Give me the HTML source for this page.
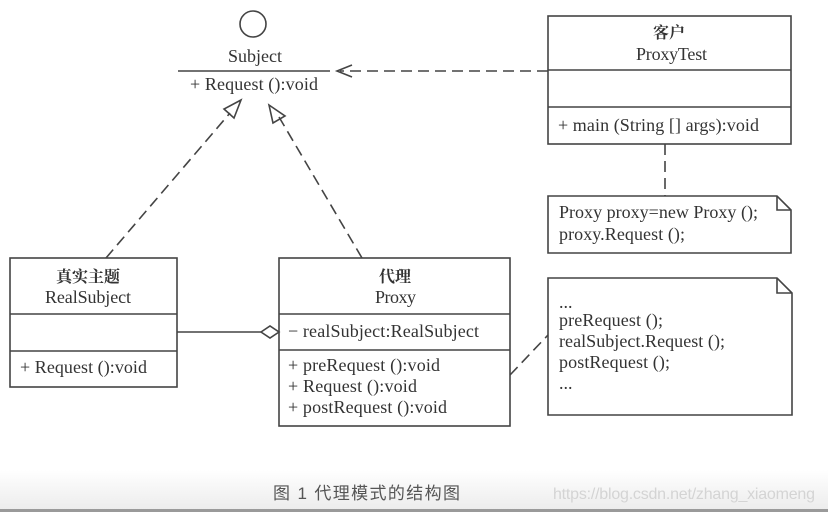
<!DOCTYPE html>
<html><head><meta charset="utf-8"><style>
body{margin:0;background:#fff;}
svg{display:block}
text{font-family:"Liberation Serif","Noto Serif CJK SC",serif;font-size:18px;fill:#333;}
.c{text-anchor:middle}
</style></head><body>
<svg width="828" height="512" viewBox="0 0 828 512" xmlns="http://www.w3.org/2000/svg">
<defs><linearGradient id="g" x1="0" y1="0" x2="0" y2="1"><stop offset="0" stop-color="#fff"/><stop offset="1" stop-color="#ececec"/></linearGradient></defs>
<rect x="0" y="470" width="828" height="40" fill="url(#g)"/>
<rect x="0" y="509" width="828" height="3" fill="#9a9a9a"/>
<g stroke="#444" stroke-width="1.6" fill="none">
<circle cx="253" cy="24" r="13"/>
<line x1="178" y1="71" x2="330" y2="71"/>
<rect x="548" y="16" width="243" height="128"/>
<line x1="548" y1="70" x2="791" y2="70"/>
<line x1="548" y1="107" x2="791" y2="107"/>
<line x1="548" y1="71" x2="340" y2="71" stroke-dasharray="11,6"/>
<polyline points="352,65 337,71 352,77"/>
<line x1="665" y1="144" x2="665" y2="196" stroke-dasharray="11,6"/>
<path d="M548,196 H777 L791,210 V253 H548 Z"/>
<path d="M777,196 V210 H791"/>
<path d="M548,278 H777 L792,293 V415 H548 Z"/>
<path d="M777,278 V293 H792"/>
<rect x="10" y="258" width="167" height="129"/>
<line x1="10" y1="314" x2="177" y2="314"/>
<line x1="10" y1="351" x2="177" y2="351"/>
<rect x="279" y="258" width="231" height="168"/>
<line x1="279" y1="314" x2="510" y2="314"/>
<line x1="279" y1="350" x2="510" y2="350"/>
<line x1="177" y1="332" x2="261" y2="332"/>
<path d="M261,332 L270,326 L279,332 L270,338 Z"/>
<line x1="510" y1="375" x2="548" y2="335" stroke-dasharray="11,6"/>
<line x1="106" y1="258" x2="230" y2="113" stroke-dasharray="11,6"/>
<path d="M241,100 L224,109 L234,118 Z"/>
<line x1="362" y1="258" x2="279" y2="117" stroke-dasharray="11,6"/>
<path d="M269,105 L273,123 L285,116 Z"/>
</g>
<text x="228" y="62" textLength="54">Subject</text>
<text x="190" y="90" textLength="128">+ Request ():void</text>
<text x="669" y="38" class="c" style="font-weight:bold;font-size:16px">客户</text>
<text x="636" y="60" textLength="71">ProxyTest</text>
<text x="558" y="131" textLength="201">+ main (String [] args):void</text>
<text x="559" y="218" textLength="199">Proxy proxy=new Proxy ();</text>
<text x="559" y="240" textLength="126">proxy.Request ();</text>
<text x="559" y="308">...</text>
<text x="559" y="326" textLength="104">preRequest ();</text>
<text x="559" y="347" textLength="166">realSubject.Request ();</text>
<text x="559" y="368" textLength="111">postRequest ();</text>
<text x="559" y="389">...</text>
<text x="88" y="282" class="c" style="font-weight:bold;font-size:16px">真实主题</text>
<text x="45" y="303" textLength="86">RealSubject</text>
<text x="20" y="373" textLength="127">+ Request ():void</text>
<text x="395" y="282" class="c" style="font-weight:bold;font-size:16px">代理</text>
<text x="375" y="303" textLength="41">Proxy</text>
<text x="288" y="337" textLength="191">− realSubject:RealSubject</text>
<text x="288" y="371" textLength="152">+ preRequest ():void</text>
<text x="288" y="392" textLength="129">+ Request ():void</text>
<text x="288" y="413" textLength="159">+ postRequest ():void</text>
<text x="273" y="499" textLength="187" style="font-family:'Liberation Sans','Noto Sans CJK SC',sans-serif;font-size:17px;fill:#555">图 1 代理模式的结构图</text>
<text x="553" y="499" textLength="262" style="font-family:'Liberation Sans',sans-serif;font-size:16px;fill:#d4d4d4">https://blog.csdn.net/zhang_xiaomeng</text>
</svg>
</body></html>
